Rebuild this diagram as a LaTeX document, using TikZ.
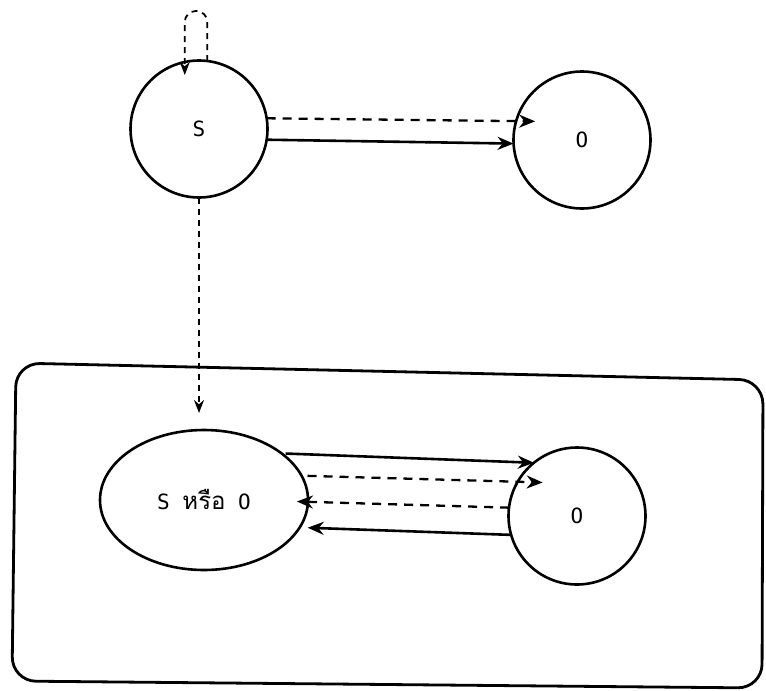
\documentclass[tikz,border=0pt]{standalone}
\usepackage{fontspec}
\setmonofont{DejaVu Sans Mono}
\newfontfamily\thaifont[Script=Thai]{Loma}
\usetikzlibrary{shapes.geometric,arrows.meta,calc}
\tikzset{
  lbl/.style={font=\ttfamily\fontsize{21}{24}\selectfont},
  state/.style={circle,draw,line width=2.6pt,minimum size=137pt,inner sep=0pt,outer sep=0pt,lbl},
  estate/.style={ellipse,draw,line width=2.6pt,minimum width=208pt,minimum height=140pt,inner sep=0pt,outer sep=0pt,lbl},
  tip/.style={-{Stealth[length=16pt,width=13pt]}},
  solidarr/.style={tip,line width=2.6pt},
  dasharr/.style={tip,line width=2.3pt,dash pattern=on 9pt off 7pt},
  finedash/.style={-{Stealth[length=13pt,width=10pt]},line width=1.8pt,dash pattern=on 6pt off 5pt},
  frame/.style={draw,line width=2.8pt,rounded corners=24pt}
}
\begin{document}
\begin{tikzpicture}[x=1pt,y=-1pt]
\useasboundingbox (0,0) rectangle (766,691);
% frame
\draw[frame] (16,363) -- (763,380) -- (762,688) -- (12,681) -- cycle;
% nodes
\node[state] (S) at (199,129) {S};
\node[state] (O1) at (582,140) {O};
\node[estate] (E) at (204,500) {S {\thaifont\fontsize{24}{26}\selectfont หรือ} O};
\node[state] (O2) at (577,516) {O};
% top connectors
\draw[dasharr,shorten >=-19pt] (S.9) -- (O1.164);
\draw[solidarr] (S.-9) -- (O1.183);
% self loop
\draw[finedash,rounded corners=11pt,shorten >=-13pt] (S.83) -- ++(0,-50) -| (S.102);
% down to ellipse
\draw[finedash,shorten >=17pt] (S.south) -- (S.south |- E.north);
% lower connectors
\draw[solidarr,shorten <=4pt] (E.31) -- (O2.129);
\draw[dasharr,shorten <=6pt,shorten >=-25pt] (E.14.5) -- (O2.150);
\draw[dasharr,shorten >=-11pt] (O2.173) -- (E.-1);
\draw[solidarr,shorten >=8pt] (O2.196) -- (E.-16.4);
\end{tikzpicture}
\end{document}
